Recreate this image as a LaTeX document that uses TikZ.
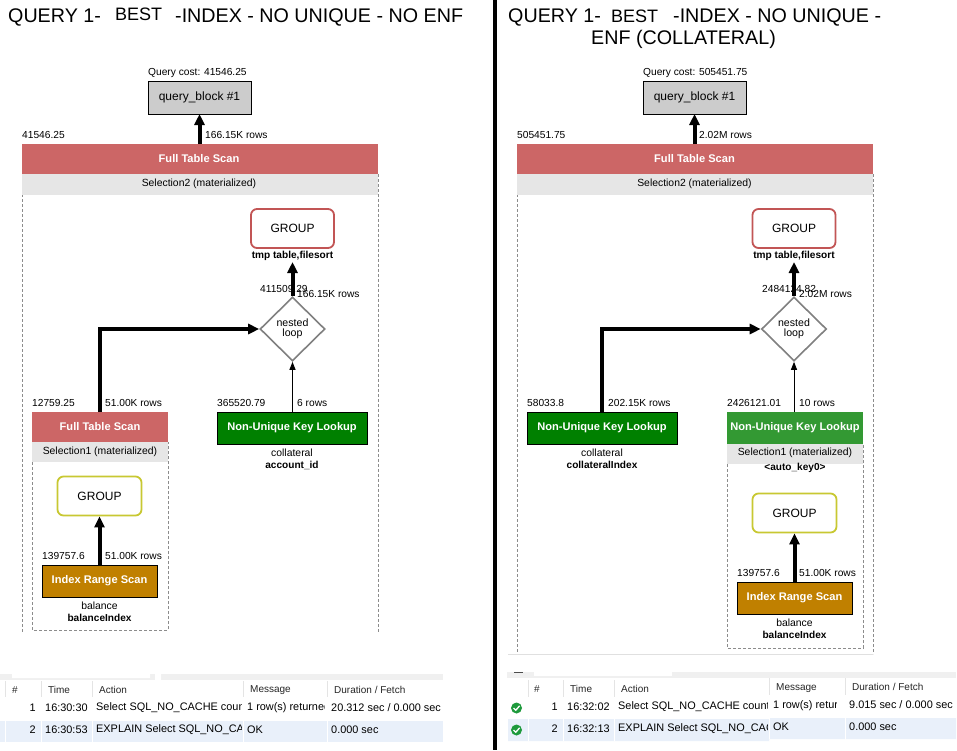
\documentclass[tikz,border=0pt]{standalone}
\usepackage{fontspec}
\setmainfont{Liberation Sans}
\usetikzlibrary{arrows.meta,shapes.geometric}
\definecolor{redfill}{HTML}{CC6666}
\definecolor{greyband}{HTML}{E6E6E6}
\definecolor{dashgrey}{HTML}{8C8C8C}
\definecolor{darkgreen}{HTML}{008000}
\definecolor{midgreen}{HTML}{339933}
\definecolor{amber}{HTML}{C08000}
\definecolor{rowblue}{HTML}{E9F0FA}
\definecolor{stripgrey}{HTML}{F0F0F0}
\definecolor{headsep}{HTML}{E4E4E4}
\definecolor{okgreen}{HTML}{1E9A3C}
\definecolor{groupredline}{HTML}{C25555}
\definecolor{groupyellowline}{HTML}{C8C832}
\tikzset{
  box/.style={rectangle,inner sep=0pt,outer sep=0pt,anchor=north west},
  smalllab/.style={font=\fontsize{10.2}{11}\selectfont,inner sep=0pt,anchor=west},
  midlab/.style={font=\fontsize{10.4}{11}\selectfont,inner sep=0pt,anchor=center,align=center},
  boldlab/.style={font=\fontsize{10.1}{11}\selectfont\bfseries,inner sep=0pt,anchor=center},
  whitelab/.style={font=\fontsize{11.1}{12}\selectfont\bfseries,text=white,inner sep=0pt,anchor=center},
  titlelab/.style={font=\fontsize{19.7}{22}\selectfont,inner sep=0pt,anchor=west},
  grouplab/.style={font=\fontsize{12}{13}\selectfont},
  blockbox/.style={box,draw=black,line width=1pt,fill=black!20,font=\fontsize{12}{13}\selectfont,anchor=center},
  groupred/.style={rectangle,rounded corners=6pt,draw=groupredline,line width=1.8pt,fill=white,inner sep=0pt,minimum width=83pt,minimum height=39pt,grouplab},
  groupyellow/.style={rectangle,rounded corners=6pt,draw=groupyellowline,line width=1.8pt,fill=white,inner sep=0pt,minimum width=84pt,minimum height=39pt,grouplab},
  loopdia/.style={diamond,draw=black!50,line width=1.6pt,fill=white,inner sep=0pt,minimum width=65pt,minimum height=64pt,aspect=1,font=\fontsize{10.6}{9.5}\selectfont,align=center},
  bold arrow/.style={line width=4pt,-{Triangle[width=10pt,length=11pt]}},
  thin arrow/.style={line width=1pt,-{Triangle[width=6pt,length=8pt]}},
  frame/.style={draw=dashgrey,line width=.8pt,dash pattern=on 3pt off 2pt},
  tabletext/.style={font=\fontsize{10.9}{11}\selectfont,inner sep=0pt,anchor=west},
  tablehead/.style={font=\fontsize{10}{11}\selectfont,inner sep=0pt,anchor=west,text=black!85},
}
\begin{document}
\begin{tikzpicture}[x=1pt,y=-1pt]
\useasboundingbox (0,0) rectangle (957,750);
\fill[white] (0,0) rectangle (957,750);
\fill[black] (492.5,0) rectangle (497,750);

%% ---------- LEFT ----------
\node[titlelab] (ltitlea) at (8,17) {QUERY 1-};
\node[titlelab,font=\fontsize{18}{20}\selectfont] (ltitleb) at (115,14) {BEST};
\node[titlelab] (ltitlec) at (175,17) {-INDEX - NO UNIQUE - NO ENF};
\node[smalllab] (lcost) at (148,73) {Query cost: 41546.25};
\node[blockbox,minimum width=103pt,minimum height=33pt] (lblock) at (199.5,97.5) {query\_block \#1};

% outer frame
\draw[frame] (22,174) -- (22,633) (378,174) -- (378,633);
\node[box,fill=redfill,minimum width=356pt,minimum height=30pt] (lscan) at (22,144) {};
\node[whitelab] (lscant) at (199,159) {Full Table Scan};
\node[box,fill=greyband,minimum width=356pt,minimum height=21pt] (lsel) at (22,174) {};
\node[midlab] (lselt) at (199,183.5) {Selection2 (materialized)};
\node[smalllab] (lcostb) at (22,135) {41546.25};
\node[smalllab] (lrowsb) at (205,135) {166.15K rows};
\draw[bold arrow] (lblock.south |- lscan.north) -- (lblock.south);

\node[groupred] (lgroup) at (292.5,228.5) {GROUP};
\node[boldlab] (ltmp) at (292.5,256) {tmp table,filesort};
\node[loopdia] (lloop) at (292.5,329) {nested\\loop};
\draw[bold arrow] (lloop.north) -- (292.5,262) coordinate (ltmpa);
\node[smalllab] (lc3) at (260,289) {411509.29};
\node[smalllab] (lr3) at (297,294) {166.15K rows};

\node[box,draw=black,line width=1pt,fill=darkgreen,minimum width=150pt,minimum height=32pt] (lnuk) at (217,412) {};
\node[whitelab] (lnukt) at (292,428) {Non-Unique Key Lookup};
\node[midlab] (lnuka) at (292,453) {collateral};
\node[boldlab] (lnukb) at (292,465) {account\_id};
\node[smalllab] (lc4) at (217,403) {365520.79};
\node[smalllab] (lr4) at (297,403) {6 rows};
\draw[thin arrow] (lloop.south |- lnuk.north) -- (lloop.south);

% inner frame
\draw[frame] (32,442) -- (32,630) -- (168,630) -- (168,442);
\node[box,fill=redfill,minimum width=136pt,minimum height=30pt] (lfts) at (32,412) {};
\node[whitelab] (lftst) at (100,427) {Full Table Scan};
\node[box,fill=greyband,minimum width=136pt,minimum height=20pt] (lsel1) at (32,442) {};
\node[midlab] (lsel1t) at (100,451.5) {Selection1 (materialized)};
\node[smalllab] (lc5) at (32,403) {12759.25};
\node[smalllab] (lr5) at (105,403) {51.00K rows};
\draw[bold arrow] (lfts.north -| 100,0) -- (100,329) -- (lloop.west);

\node[groupyellow] (lgy) at (99.5,496) {GROUP};
\node[box,draw=black,line width=1pt,fill=amber,minimum width=115pt,minimum height=32pt] (lirs) at (42,565) {};
\node[whitelab] (lirst) at (99.5,581) {Index Range Scan};
\node[midlab] (lirsa) at (99.5,606) {balance};
\node[boldlab] (lirsb) at (99.5,618) {balanceIndex};
\node[smalllab] (lc6) at (42,556) {139757.6};
\node[smalllab] (lr6) at (105,556) {51.00K rows};
\draw[bold arrow] (lirs.north) -- (lgy.south);

% left results table
\fill[stripgrey] (0,674) rectangle (443,680);
\fill[white] (12,674) rectangle (150,678) (155,674) rectangle (161,680);
\fill[rowblue] (0,721) rectangle (443,742);
\foreach \sx in {5,41,92,243,327}{
  \draw[headsep,line width=.7pt] (\sx,681) -- (\sx,697);
  \draw[white,line width=1pt] (\sx,721) -- (\sx,742);
}
\node[tablehead] (lh1) at (12,690) {\#};
\node[tablehead] (lh2) at (48,690) {Time};
\node[tablehead] (lh3) at (99,690) {Action};
\node[tablehead] (lh4) at (250,690) {Message};
\node[tablehead] (lh5) at (334,690) {Duration / Fetch};
\node[tabletext,anchor=east] (l1a) at (36,708) {1};
\node[tabletext] (l1b) at (45,708) {16:30:30};
\begin{scope}
\clip (94,700) rectangle (241,718);
\node[tabletext] (l1c) at (96,708) {Select SQL\_NO\_CACHE count(};
\end{scope}
\begin{scope}
\clip (246,700) rectangle (324,718);
\node[tabletext] (l1d) at (247,708) {1 row(s) returned};
\end{scope}
\node[tabletext] (l1e) at (331,708) {20.312 sec / 0.000 sec};
\node[tabletext,anchor=east] (l2a) at (36,730) {2};
\node[tabletext] (l2b) at (45,730) {16:30:53};
\begin{scope}
\clip (94,722) rectangle (241,740);
\node[tabletext] (l2c) at (96,730) {EXPLAIN Select SQL\_NO\_CACHE};
\end{scope}
\node[tabletext] (l2d) at (247,730) {OK};
\node[tabletext] (l2e) at (331,730) {0.000 sec};

%% ---------- RIGHT ----------
\node[titlelab] (rtitlea) at (508,17) {QUERY 1-};
\node[titlelab,font=\fontsize{18}{20}\selectfont] (rtitleb) at (611,16) {BEST};
\node[titlelab] (rtitlec) at (673,17) {-INDEX - NO UNIQUE -};
\node[titlelab] (rtitled) at (591,39) {ENF (COLLATERAL)};
\node[smalllab] (rcost) at (643,73) {Query cost: 505451.75};
\node[blockbox,minimum width=103pt,minimum height=33pt] (rblock) at (694.5,97.5) {query\_block \#1};

\draw[frame] (517,174) -- (517,654) (873,174) -- (873,654);
\draw[black!12,line width=.8pt] (508,654.5) -- (873,654.5);
\node[box,fill=redfill,minimum width=356pt,minimum height=30pt] (rscan) at (517,144) {};
\node[whitelab] (rscant) at (694.5,159) {Full Table Scan};
\node[box,fill=greyband,minimum width=356pt,minimum height=21pt] (rsel) at (517,174) {};
\node[midlab] (rselt) at (694.5,183.5) {Selection2 (materialized)};
\node[smalllab] (rcostb) at (517,135) {505451.75};
\node[smalllab] (rrowsb) at (699,135) {2.02M rows};
\draw[bold arrow] (rblock.south |- rscan.north) -- (rblock.south);

\node[groupred] (rgroup) at (794,228.5) {GROUP};
\node[boldlab] (rtmp) at (794,256) {tmp table,filesort};
\node[loopdia] (rloop) at (794,329) {nested\\loop};
\draw[bold arrow] (rloop.north) -- (794,262) coordinate (rtmpa);
\node[smalllab] (rc3) at (762,289) {2484124.82};
\node[smalllab] (rr3) at (799,294) {2.02M rows};

\node[box,draw=black,line width=1pt,fill=darkgreen,minimum width=150pt,minimum height=32pt] (rnuk) at (527,412) {};
\node[whitelab] (rnukt) at (602,428) {Non-Unique Key Lookup};
\node[midlab] (rnuka) at (602,453) {collateral};
\node[boldlab] (rnukb) at (602,465) {collateralIndex};
\node[smalllab] (rc4) at (527,403) {58033.8};
\node[smalllab] (rr4) at (608,403) {202.15K rows};
\draw[bold arrow] (rnuk.north) -- (602,329) -- (rloop.west);

\draw[frame] (727,444) -- (727,648) -- (863,648) -- (863,444);
\node[box,fill=midgreen,minimum width=136pt,minimum height=32pt] (rnk2) at (727,412) {};
\node[whitelab] (rnk2t) at (795,428) {Non-Unique Key Lookup};
\node[box,fill=greyband,minimum width=136pt,minimum height=20pt] (rsel1) at (727,444) {};
\node[midlab] (rsel1t) at (795,453) {Selection1 (materialized)};
\node[boldlab] (rauto) at (795,468) {<auto\_key0>};
\node[smalllab] (rc5) at (727,403) {2426121.01};
\node[smalllab] (rr5) at (799,403) {10 rows};
\draw[thin arrow] (rloop.south |- rnk2.north) -- (rloop.south);

\node[groupyellow] (rgy) at (794.5,513) {GROUP};
\node[box,draw=black,line width=1pt,fill=amber,minimum width=115pt,minimum height=32pt] (rirs) at (737,582) {};
\node[whitelab] (rirst) at (794.5,598) {Index Range Scan};
\node[midlab] (rirsa) at (794.5,623) {balance};
\node[boldlab] (rirsb) at (794.5,635) {balanceIndex};
\node[smalllab] (rc6) at (737,573) {139757.6};
\node[smalllab] (rr6) at (799,573) {51.00K rows};
\draw[bold arrow] (rirs.north) -- (rgy.south);

% right results table
\fill[stripgrey] (507,672) rectangle (956,678);
\fill[white] (534,672) rectangle (672,676);
\draw[black!70,line width=.7pt] (514,672.5) -- (523,672.5);
\fill[rowblue] (508,719) rectangle (769,741) (769,718) rectangle (845,739) (846,718) rectangle (956,739);
\foreach \sx in {528,563,614}{
  \draw[headsep,line width=.7pt] (\sx,680) -- (\sx,697);
  \draw[white,line width=1pt] (\sx,719) -- (\sx,741);
}
\foreach \sx in {769,845}{
  \draw[headsep,line width=.7pt] (\sx,678) -- (\sx,695);
  \draw[white,line width=1pt] (\sx,717) -- (\sx,739);
}
\node[tablehead] (rh1) at (534,689) {\#};
\node[tablehead] (rh2) at (570,689) {Time};
\node[tablehead] (rh3) at (621,689) {Action};
\node[tablehead] (rh4) at (776,688) {Message};
\node[tablehead] (rh5) at (852,687) {Duration / Fetch};
\foreach \cy in {708,730}{
  \fill[okgreen] (516.5,\cy) circle (5.5pt);
  \draw[white,line width=1.3pt] (513.5,\cy) -- (515.8,\cy+2.2) -- (519.6,\cy-2.2);
}
\node[tabletext,anchor=east] (r1a) at (558,707) {1};
\node[tabletext] (r1b) at (567,707) {16:32:02};
\begin{scope}
\clip (616,698) rectangle (767,716);
\node[tabletext] (r1c) at (618,707) {Select SQL\_NO\_CACHE count(};
\end{scope}
\begin{scope}
\clip (771,696) rectangle (836,716);
\node[tabletext] (r1d) at (773,706) {1 row(s) returned};
\end{scope}
\node[tabletext] (r1e) at (849,705) {9.015 sec / 0.000 sec};
\node[tabletext,anchor=east] (r2a) at (558,729) {2};
\node[tabletext] (r2b) at (567,729) {16:32:13};
\begin{scope}
\clip (616,720) rectangle (767,738);
\node[tabletext] (r2c) at (618,729) {EXPLAIN Select SQL\_NO\_CACHE};
\end{scope}
\node[tabletext] (r2d) at (773,727) {OK};
\node[tabletext] (r2e) at (849,727) {0.000 sec};
\end{tikzpicture}
\end{document}
